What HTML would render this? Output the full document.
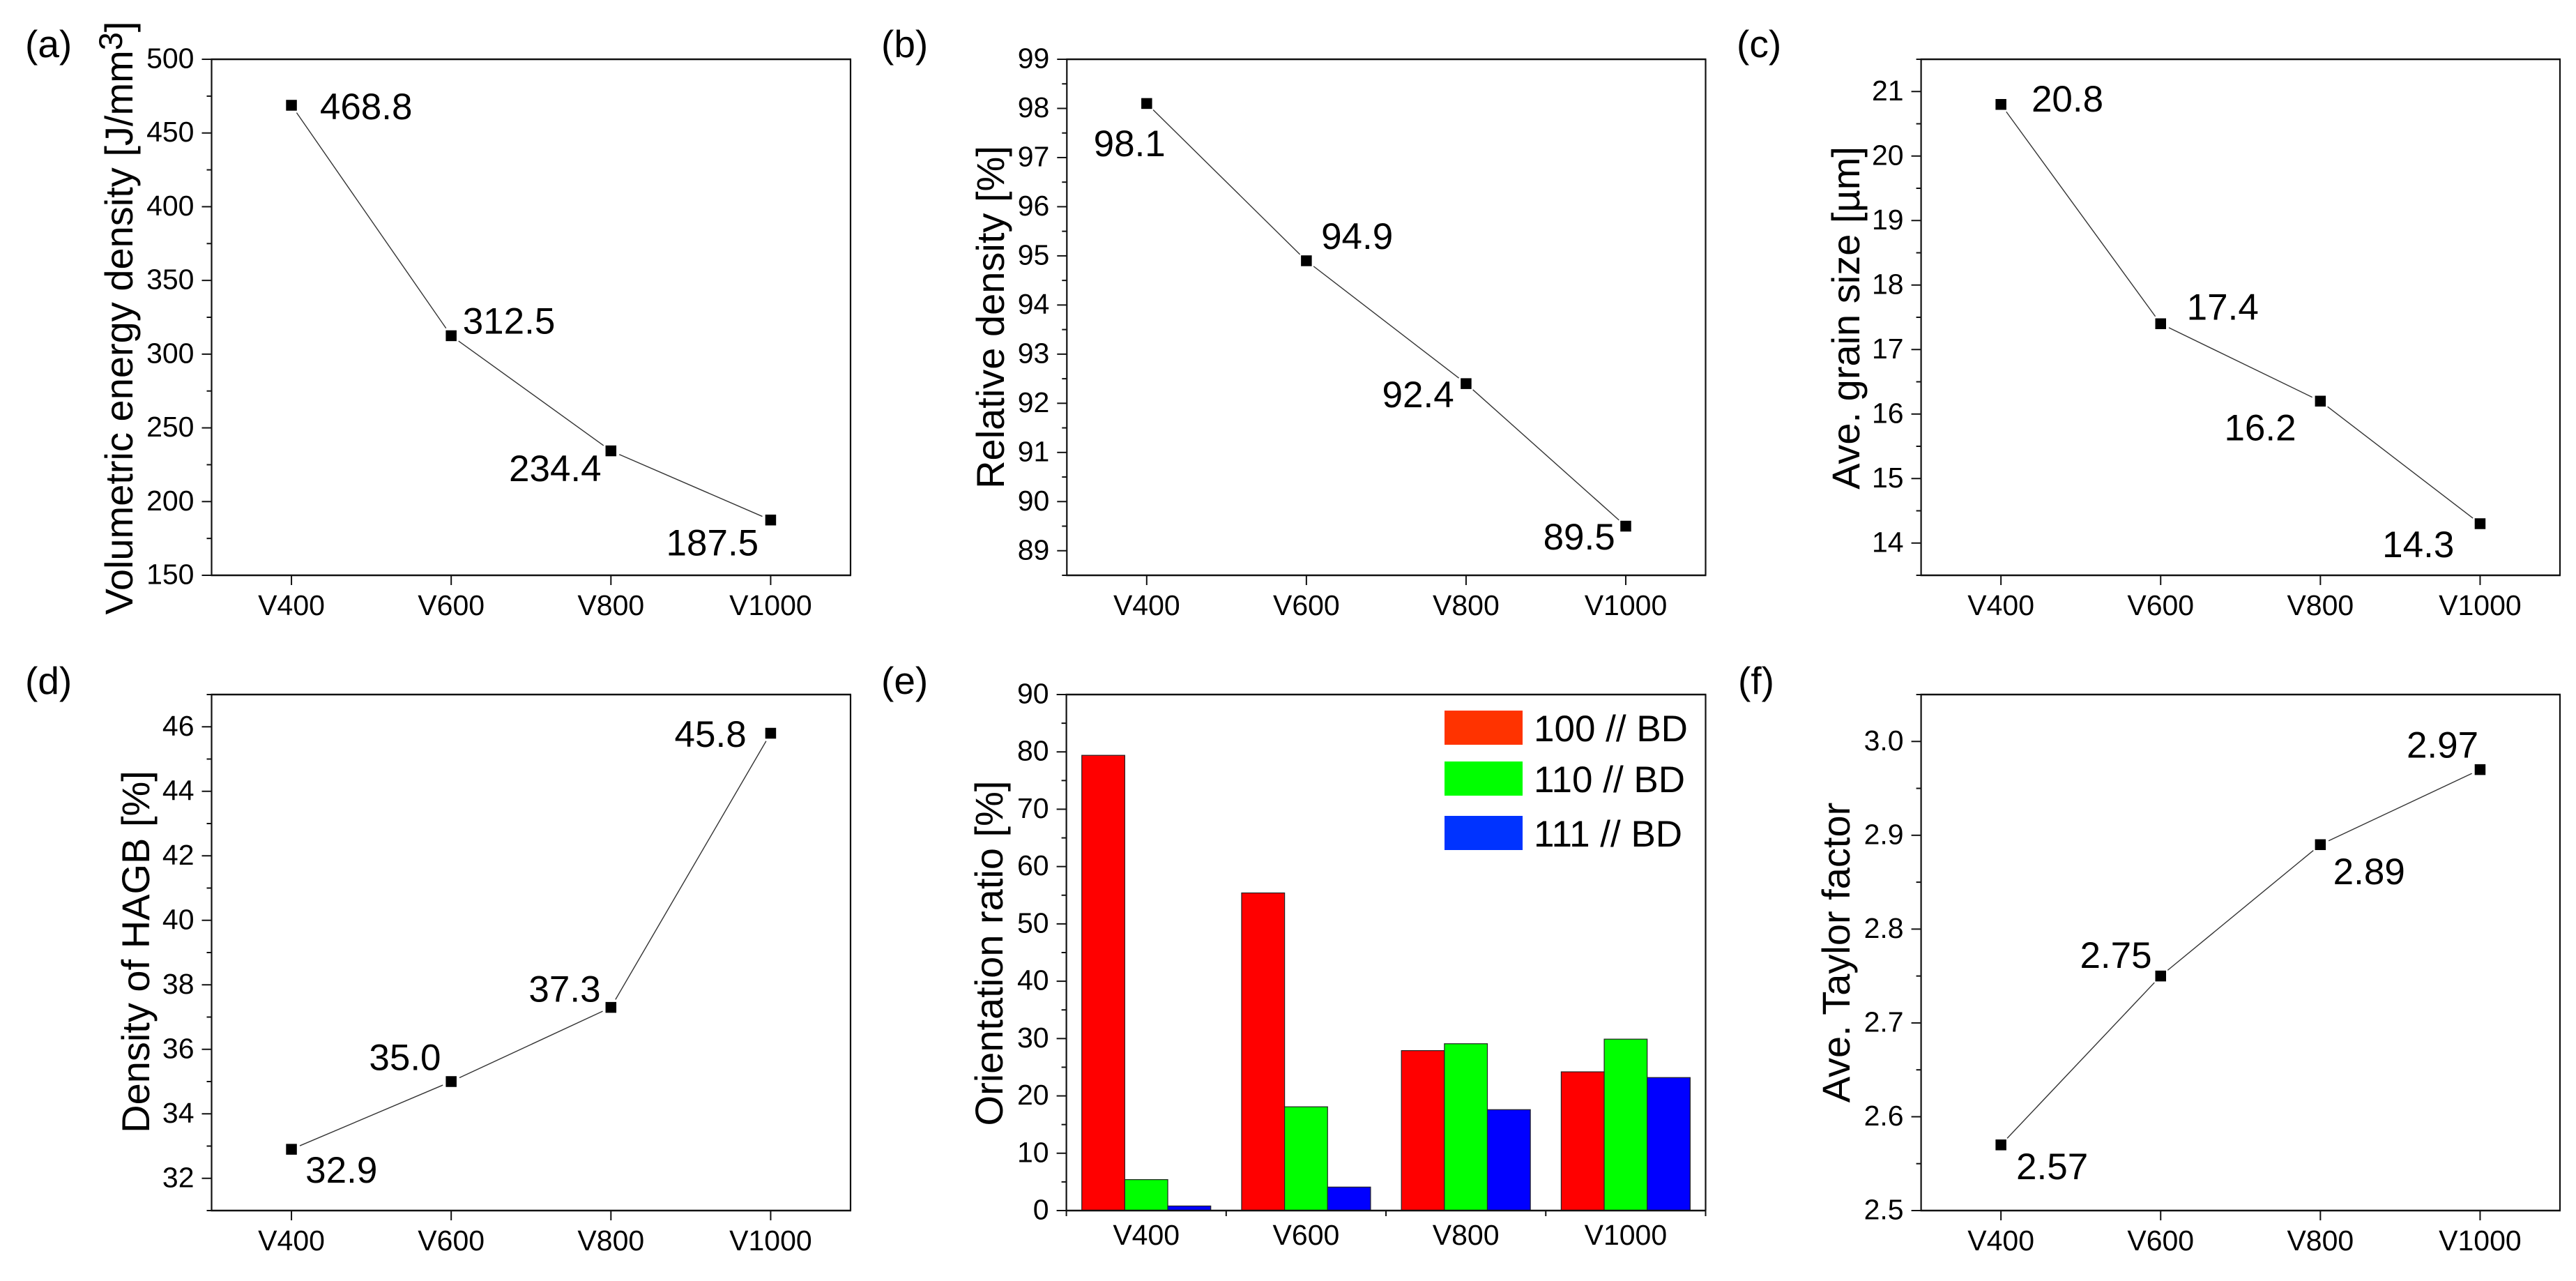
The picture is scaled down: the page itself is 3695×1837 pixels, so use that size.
<!DOCTYPE html>
<html lang="en">
<head>
<meta charset="utf-8">
<title>Process parameter charts</title>
<style>
html,body{margin:0;padding:0;background:#fff;}
svg{display:block;}
text{font-family:"Liberation Sans",Arial,sans-serif;fill:#000;}
.tick{font-size:41px;}
.title{font-size:56px;}
.plabel{font-size:55px;}
.dlabel{font-size:53px;}
.leg{font-size:53px;}
</style>
</head>
<body>
<svg id="fig" xmlns="http://www.w3.org/2000/svg" width="3695" height="1837" viewBox="0 0 3695 1837">
  <rect x="0" y="0" width="3695" height="1837" fill="#fff"/>

  <g id="panel-a">
    <text class="plabel" x="36" y="82">(a)</text>
    <text class="title" text-anchor="middle" transform="translate(190 456) rotate(-90)">Volumetric energy density [J/mm<tspan font-size="47" dy="-15">3</tspan><tspan dy="15">]</tspan></text>
  </g>
  <g id="panel-b">
    <text class="plabel" x="1264" y="82">(b)</text>
    <text class="title" text-anchor="middle" transform="translate(1440 455) rotate(-90)">Relative density [%]</text>
  </g>
  <g id="panel-c">
    <text class="plabel" x="2491" y="82">(c)</text>
    <text class="title" text-anchor="middle" transform="translate(2667 456) rotate(-90)">Ave. grain size [µm]</text>
  </g>
  <g id="panel-d">
    <text class="plabel" x="36" y="995">(d)</text>
    <text class="title" text-anchor="middle" transform="translate(214 1365) rotate(-90)">Density of HAGB [%]</text>
  </g>
  <g id="panel-e">
    <text class="plabel" x="1264" y="995">(e)</text>
    <text class="title" text-anchor="middle" transform="translate(1438 1367) rotate(-90)">Orientation ratio [%]</text>
  </g>
  <g id="panel-f">
    <text class="plabel" x="2493" y="995">(f)</text>
    <text class="title" text-anchor="middle" transform="translate(2653 1366) rotate(-90)">Ave. Taylor factor</text>
  </g>

  <g id="legend">
    <g>
      <rect x="2072" y="1019" width="112" height="49" fill="#ff3300"/>
      <text class="leg" x="2200" y="1063">100 // BD</text>
    </g>
    <g>
      <rect x="2072" y="1092" width="112" height="49" fill="#00ff00"/>
      <text class="leg" x="2200" y="1136">110 // BD</text>
    </g>
    <g>
      <rect x="2072" y="1170" width="112" height="49" fill="#0033ff"/>
      <text class="leg" x="2200" y="1214">111 // BD</text>
    </g>
  </g>
</svg>

<script>
// ---- chart data ----
const categories = ['V400', 'V600', 'V800', 'V1000'];
const energyDensity = [468.8, 312.5, 234.4, 187.5];
const relativeDensity = [98.1, 94.9, 92.4, 89.5];
const grainSize = [20.8, 17.4, 16.2, 14.3];
const hagbDensity = [32.9, 35.0, 37.3, 45.8];
const taylorFactor = [2.57, 2.75, 2.89, 2.97];
const ratio100 = [79.4, 55.4, 27.9, 24.2];
const ratio110 = [5.4, 18.1, 29.1, 29.9];
const ratio111 = [0.8, 4.1, 17.6, 23.2];

// ---- layout (not data) ----
const NS = 'http://www.w3.org/2000/svg';
const linePanels = [
  {id:'a', box:[303.5,1220,85,825],    yMin:150, yMax:500,  minor:25,   dec:0, labelDec:1, values:energyDensity,
   offs:[[40.8,20],[16.5,-3],[-146.3,43.6],[-149.9,51]]},
  {id:'b', box:[1530.3,2446.5,85,825], yMin:88.5,yMax:99,   minor:0.5,  dec:0, labelDec:1, values:relativeDensity,
   offs:[[-76.2,75.6],[21.2,-17],[-120.4,33.8],[-118.4,33.4]]},
  {id:'c', box:[2755.6,3672,85,825],   yMin:13.5,yMax:21.5, minor:0.5,  dec:0, labelDec:1, values:grainSize,
   offs:[[43.8,10],[37.4,-6],[-137.9,56],[-140.3,48]]},
  {id:'d', box:[303.5,1220,996,1736],  yMin:31,  yMax:47,   minor:1,    dec:0, labelDec:1, values:hagbDensity,
   offs:[[20.1,48],[-117.8,-16.7],[-117.9,-8],[-137.9,19.4]]},
  {id:'f', box:[2755.6,3672,996,1736], yMin:2.5, yMax:3.05, minor:0.05, dec:1, labelDec:2, values:taylorFactor,
   offs:[[21.9,49.4],[-115.8,-11.5],[18.3,56.5],[-105.5,-17]]}
];
const barPanel = {id:'e', box:[1529.6,2446.5,996,1736], yMin:0, yMax:90, minor:5, dec:0};
const barSeries = [
  {name:'100', values:ratio100, color:'#ff0000'},
  {name:'110', values:ratio110, color:'#00ff00'},
  {name:'111', values:ratio111, color:'#0000ff'}
];

function make(tag, props, parent) {
  const el = document.createElementNS(NS, tag);
  for (const k in props) el.setAttribute(k, props[k]);
  parent.appendChild(el);
  return el;
}
function yScale(p) {
  const b = p.box;
  return v => b[3] - (v - p.yMin) / (p.yMax - p.yMin) * (b[3] - b[2]);
}
function catX(p, i) {
  const b = p.box;
  return b[0] + (i + 0.5) * (b[1] - b[0]) / categories.length;
}

function drawYAxis(p, g) {
  const b = p.box, y = yScale(p);
  const first = Math.ceil(p.yMin / p.minor - 1e-6);
  const last = Math.floor(p.yMax / p.minor + 1e-6);
  for (let k = first; k <= last; k++) {
    const v = k * p.minor, major = k % 2 === 0;
    const len = major ? 14 : 7;
    const t = make('line', {x1:b[0]-len, x2:b[0], y1:y(v), y2:y(v), stroke:'#111', 'stroke-width':2}, g);
    
    
    if (major) {
      const lab = make('text', {class:'tick', x:b[0]-25, y:y(v)+12.5, 'text-anchor':'end'}, g);
      lab.textContent = v.toFixed(p.dec);
      
      
    }
  }
}
function drawFrame(p, g) {
  const b = p.box;
  const sides = [
    ['axis-top', b[0]-1, b[2], b[1]+1, b[2], 2.6],
    ['axis-bottom', b[0]-1, b[3], b[1]+1, b[3], 2.6],
    ['axis-left', b[0], b[2], b[0], b[3], 2.2],
    ['axis-right', b[1], b[2], b[1], b[3], 2.2]
  ];
  sides.forEach(s => {
    const l = make('line', {x1:s[1], y1:s[2], x2:s[3], y2:s[4], stroke:'#111', 'stroke-width':s[5]}, g);
    
    
  });
}
function drawCatLabels(p, g, baseline) {
  categories.forEach((c, i) => {
    const lab = make('text', {class:'tick', x:catX(p, i), y:baseline, 'text-anchor':'middle'}, g);
    lab.textContent = c;
    
    
  });
}

linePanels.forEach(p => {
  const g = document.getElementById('panel-' + p.id);
  const b = p.box, y = yScale(p);
  const pts = p.values.map((v, i) => [catX(p, i), y(v)]);
  // connecting segments, with a gap around each marker
  for (let i = 0; i < pts.length - 1; i++) {
    const a = pts[i], c = pts[i+1];
    const dx = c[0]-a[0], dy = c[1]-a[1], d = Math.hypot(dx, dy);
    const gap = 13;
    const seg = make('line', {
      x1:a[0]+dx/d*gap, y1:a[1]+dy/d*gap, x2:c[0]-dx/d*gap, y2:c[1]-dy/d*gap,
      stroke:'#333', 'stroke-width':1.4
    }, g);
    
    
  }
  pts.forEach((q, i) => {
    const m = make('rect', {x:q[0]-7.75, y:q[1]-7.75, width:15.5, height:15.5, fill:'#000'}, g);
    
    
    const t = make('text', {class:'dlabel', x:q[0]+p.offs[i][0], y:q[1]+p.offs[i][1]}, g);
    t.textContent = p.values[i].toFixed(p.labelDec);
    
    
  });
  drawFrame(p, g);
  drawYAxis(p, g);
  categories.forEach((c, i) => {
    const x = catX(p, i);
    const t = make('line', {x1:x, x2:x, y1:b[3], y2:b[3]+14, stroke:'#111', 'stroke-width':2}, g);
    
    
  });
  drawCatLabels(p, g, b[3]+57);
});

(function () {
  const p = barPanel;
  const g = document.getElementById('panel-e');
  const b = p.box, y = yScale(p);
  const step = (b[1]-b[0]) / categories.length;
  const bw = step * 0.269;
  barSeries.forEach((s, j) => {
    s.values.forEach((v, i) => {
      const x = catX(p, i) + (j - 1.5) * bw;
      const r = make('rect', {x:x, y:y(v), width:bw, height:y(0)-y(v), fill:s.color, stroke:'#222', 'stroke-width':1.2}, g);
      
      
    });
  });
  drawFrame(p, g);
  drawYAxis(p, g);
  for (let i = 0; i <= categories.length; i++) {
    const x = b[0] + i * step;
    const t = make('line', {x1:x, x2:x, y1:b[3], y2:b[3]+8, stroke:'#111', 'stroke-width':2}, g);
    
    
  }
  drawCatLabels(p, g, b[3]+49);
})();
</script>
</body>
</html>
